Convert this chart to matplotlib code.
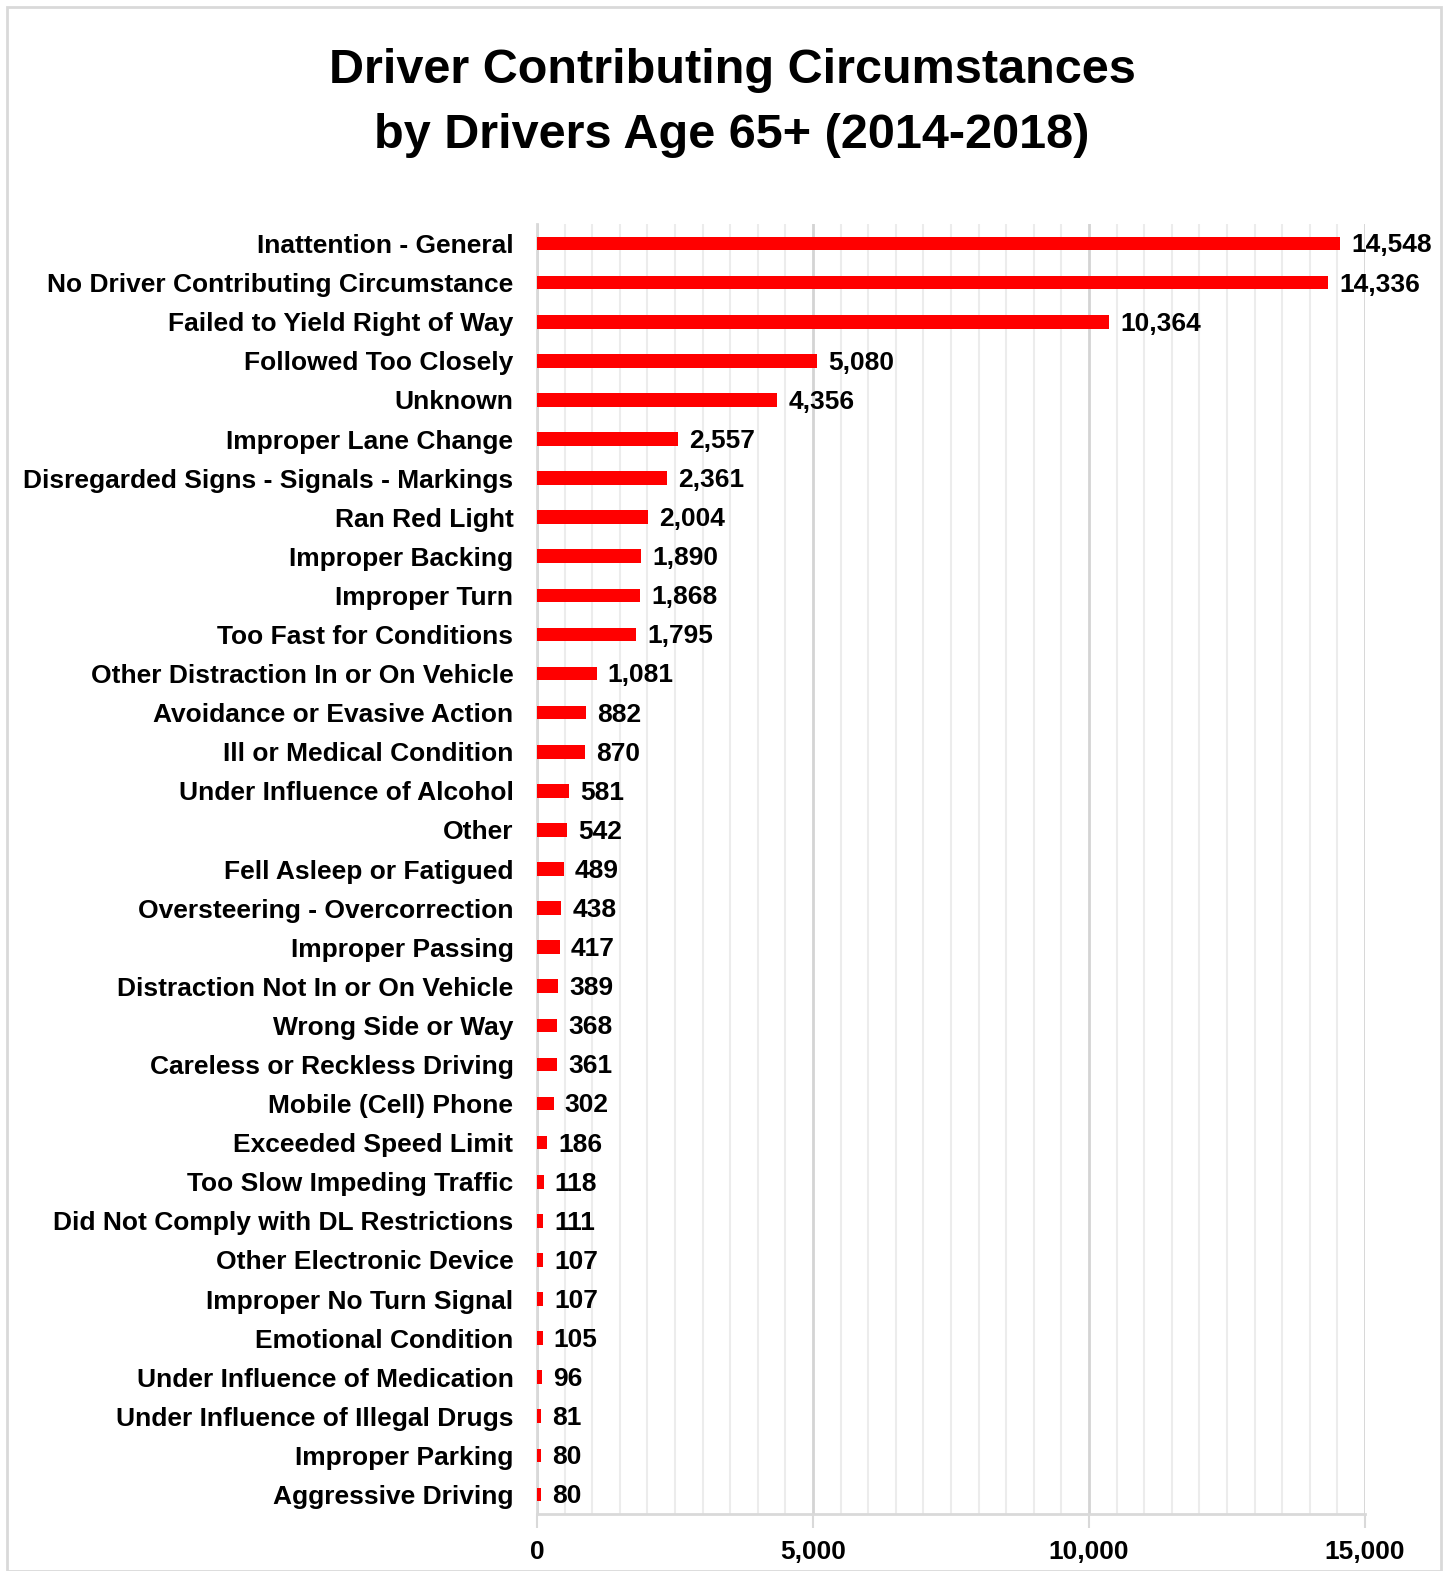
import matplotlib
matplotlib.use("Agg")
import matplotlib.pyplot as plt
from matplotlib.ticker import MultipleLocator, FuncFormatter
from matplotlib.patches import Rectangle

categories = [
    "Inattention - General",
    "No Driver Contributing Circumstance",
    "Failed to Yield Right of Way",
    "Followed Too Closely",
    "Unknown",
    "Improper Lane Change",
    "Disregarded Signs - Signals - Markings",
    "Ran Red Light",
    "Improper Backing",
    "Improper Turn",
    "Too Fast for Conditions",
    "Other Distraction In or On Vehicle",
    "Avoidance or Evasive Action",
    "Ill or Medical Condition",
    "Under Influence of Alcohol",
    "Other",
    "Fell Asleep or Fatigued",
    "Oversteering - Overcorrection",
    "Improper Passing",
    "Distraction Not In or On Vehicle",
    "Wrong Side or Way",
    "Careless or Reckless Driving",
    "Mobile (Cell) Phone",
    "Exceeded Speed Limit",
    "Too Slow Impeding Traffic",
    "Did Not Comply with DL Restrictions",
    "Other Electronic Device",
    "Improper No Turn Signal",
    "Emotional Condition",
    "Under Influence of Medication",
    "Under Influence of Illegal Drugs",
    "Improper Parking",
    "Aggressive Driving",
]
values = [14548, 14336, 10364, 5080, 4356, 2557, 2361, 2004, 1890, 1868, 1795,
          1081, 882, 870, 581, 542, 489, 438, 417, 389, 368, 361, 302, 186,
          118, 111, 107, 107, 105, 96, 81, 80, 80]
xticks = [0, 5000, 10000, 15000]

FONT = ['Liberation Sans Narrow', 'Liberation Sans', 'DejaVu Sans']
plt.rcParams['font.family'] = FONT

fig = plt.figure(figsize=(14.49, 15.71), dpi=100)
fig.patches.append(Rectangle((7/1449, 0), 1434/1449, 1 - 7/1571, transform=fig.transFigure,
                             fill=False, edgecolor='#d9d9d9', linewidth=2, zorder=0))

ax = fig.add_axes([537/1449, 57/1571, (1365-537)/1449, (1514-224)/1571])
n = len(categories)
ypos = list(range(n))
ax.barh(ypos, values, height=0.35, color='#ff0000', zorder=3)
ax.set_ylim(n - 0.5, -0.5)
ax.set_xlim(0, 15000)
ax.set_yticks(ypos)
ax.set_yticklabels(categories, fontsize=19, fontweight='bold')
ax.set_xticks(xticks)
ax.xaxis.set_major_formatter(FuncFormatter(lambda v, p: f"{int(v):,}"))
ax.xaxis.set_minor_locator(MultipleLocator(500))
for lab in ax.get_xticklabels():
    lab.set_fontsize(19)
    lab.set_fontweight('bold')
ax.tick_params(axis='y', length=0, pad=17)
ax.tick_params(axis='x', which='major', length=10, width=1.5, color='#d9d9d9', pad=9)
ax.tick_params(axis='x', which='minor', length=0)
ax.grid(axis='x', which='minor', color='#ececec', linewidth=1.5, zorder=0)
ax.grid(axis='x', which='major', color='#d4d4d4', linewidth=2, zorder=0)
ax.set_axisbelow(True)
for s in ['top', 'right']:
    ax.spines[s].set_visible(False)
for s in ['left', 'bottom']:
    ax.spines[s].set_color('#d9d9d9')
    ax.spines[s].set_linewidth(2)

for y, v in zip(ypos, values):
    ax.text(v + 200, y + 0.05, f"{v:,}", va='center', ha='left', fontsize=19,
            fontweight='bold', zorder=4)

fig.text(732/1449, 1 - 103/1571, "Driver Contributing Circumstances\nby Drivers Age 65+ (2014-2018)",
         ha='center', va='center', fontsize=35, fontweight='bold', linespacing=1.55)

fig.savefig("out.png", dpi=100)
